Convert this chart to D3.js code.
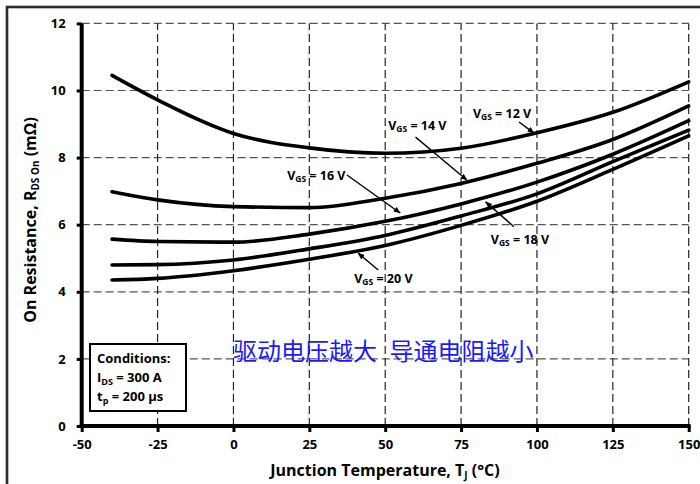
<!DOCTYPE html>
<html>
<head>
<meta charset="utf-8">
<script src="https://cdn.jsdelivr.net/npm/d3@7/dist/d3.min.js"></script>
<style>
  html, body { margin: 0; padding: 0; background: #fff; }
  svg { display: block; }
  text { font-family: "Open Sans", Lato, "DejaVu Sans", sans-serif; font-weight: bold; }
</style>
</head>
<body>
<svg id="chart" width="700" height="484"></svg>
<script>
// Junction temperature samples (°C)
const temps = [-40, -25, 0, 25, 50, 75, 100, 125, 150];

// On resistance R_DS(on) in mΩ for each gate voltage
const rdsVgs12 = [10.45, 9.72, 8.72, 8.29, 8.13, 8.28, 8.74, 9.35, 10.26];
const rdsVgs14 = [6.98, 6.74, 6.54, 6.51, 6.79, 7.23, 7.83, 8.54, 9.54];
const rdsVgs16 = [5.57, 5.50, 5.48, 5.72, 6.10, 6.62, 7.27, 8.10, 9.10];
const rdsVgs18 = [4.80, 4.81, 4.95, 5.28, 5.68, 6.26, 6.92, 7.88, 8.82];
const rdsVgs20 = [4.35, 4.40, 4.63, 4.97, 5.38, 5.98, 6.70, 7.65, 8.65];

const gateVoltages = ["12", "14", "16", "18", "20"];

// Axis ticks
const xTicks = [-50, -25, 0, 25, 50, 75, 100, 125, 150];
const yTicks = [0, 2, 4, 6, 8, 10, 12];

const series = [rdsVgs12, rdsVgs14, rdsVgs16, rdsVgs18, rdsVgs20].map((vals, i) => ({
  vgs: gateVoltages[i],
  points: temps.map((t, j) => ({ t, r: vals[j] }))
}));

const svg = d3.select("#chart");

// Outer frame
svg.append("rect")
  .attr("x", 7).attr("y", 7).attr("width", 730).attr("height", 520)
  .attr("fill", "none").attr("stroke", "#2b2b2b").attr("stroke-width", 2.6);

const x = d3.scaleLinear().domain([-50, 150]).range([81.7, 688.7]);
const y = d3.scaleLinear().domain([0, 12]).range([426, 23.4]);

// Dashed grid
const grid = svg.append("g").attr("class", "grid");
grid.selectAll("line.h").data(yTicks.filter(v => v > 0)).join("line")
  .attr("x1", x(-50)).attr("x2", x(150))
  .attr("y1", d => y(d)).attr("y2", d => y(d))
  .attr("stroke", "#555").attr("stroke-width", 1.2).attr("stroke-dasharray", "8,4");
grid.selectAll("line.v").data(xTicks.filter(v => v > -50)).join("line")
  .attr("y1", y(0)).attr("y2", y(12))
  .attr("x1", d => x(d)).attr("x2", d => x(d))
  .attr("stroke", "#222").attr("stroke-width", 1.2).attr("stroke-dasharray", "8,4");

// Axes (plain hyphen for negative labels)
const fmt = d => String(d);
const yAxis = svg.append("g")
  .attr("transform", `translate(${x(-50)},0)`)
  .call(d3.axisLeft(y).tickValues(yTicks).tickFormat(fmt).tickSize(5).tickPadding(11).tickSizeOuter(0));
const xAxis = svg.append("g")
  .attr("transform", `translate(0,${y(0)})`)
  .call(d3.axisBottom(x).tickValues(xTicks).tickFormat(fmt).tickSize(6).tickPadding(8).tickSizeOuter(0));

[yAxis, xAxis].forEach(a => {
  a.select(".domain").attr("stroke", "#000").attr("stroke-width", 4);
  a.selectAll(".tick line").attr("stroke", "#000").attr("stroke-width", 3);
  a.selectAll(".tick text").style("font-size", "13px").style("fill", "#000")
    .style("font-family", "'Open Sans', sans-serif").style("font-weight", "bold");
});
xAxis.select(".domain").attr("d", `M${x(-50) - 2},0H${x(150) + 2}`);
yAxis.select(".domain").attr("d", `M0,${y(0) + 2}V${y(12)}`);

// Curves
const line = d3.line()
  .x(d => x(d.t))
  .y(d => y(d.r))
  .curve(d3.curveMonotoneX);

svg.append("g").selectAll("path").data(series).join("path")
  .attr("d", d => line(d.points))
  .attr("fill", "none")
  .attr("stroke", "#000")
  .attr("stroke-width", 3.6)
  .attr("stroke-linecap", "round");

// Arrow marker
svg.append("defs").append("marker")
  .attr("id", "arrowhead")
  .attr("viewBox", "0 0 10 10")
  .attr("refX", 9).attr("refY", 5)
  .attr("markerWidth", 7).attr("markerHeight", 7)
  .attr("markerUnits", "userSpaceOnUse")
  .attr("orient", "auto")
  .append("path").attr("d", "M0,1L10,5L0,9Z").attr("fill", "#000");

// Series labels with leader arrows (positions in data units)
const annotations = [
  { vgs: "12", label: [88.5, 9.33], from: [94.1, 9.06], to: [99.0, 8.73] },
  { vgs: "14", label: [60.6, 8.97], from: [60.0, 8.61], to: [76.9, 7.33] },
  { vgs: "16", label: [27.3, 7.48], from: [37.4, 7.48], to: [54.9, 6.35] },
  { vgs: "18", label: [94.4, 5.57], from: [92.4, 5.94], to: [83.1, 6.68] },
  { vgs: "20", label: [49.4, 4.41], from: [47.7, 4.65], to: [41.1, 5.15] }
];

const ann = svg.append("g");
annotations.forEach(a => {
  ann.append("line")
    .attr("x1", x(a.from[0])).attr("y1", y(a.from[1]))
    .attr("x2", x(a.to[0])).attr("y2", y(a.to[1]))
    .attr("stroke", "#000").attr("stroke-width", 1.4)
    .attr("marker-end", "url(#arrowhead)");
  const t = ann.append("text")
    .attr("x", x(a.label[0])).attr("y", y(a.label[1]))
    .attr("text-anchor", "middle")
    .attr("dominant-baseline", "central")
    .style("font-size", "12.5px")
    .style("fill", "#000");
  t.append("tspan").text("V");
  t.append("tspan").attr("dy", 3).style("font-size", "8.5px").text("GS");
  t.append("tspan").attr("dy", -3).text(` = ${a.vgs} V`);
});

// Test conditions box
svg.append("rect")
  .attr("x", 90).attr("y", 344).attr("width", 96).attr("height", 67)
  .attr("fill", "#fff").attr("stroke", "#000").attr("stroke-width", 2);
const cond = svg.append("g").style("font-size", "13px").style("fill", "#000");
cond.append("text").attr("x", 97).attr("y", 363).text("Conditions:");
const c2 = cond.append("text").attr("x", 97).attr("y", 382);
c2.append("tspan").text("I");
c2.append("tspan").attr("dy", 3).style("font-size", "9px").text("DS");
c2.append("tspan").attr("dy", -3).text(" = 300 A");
const c3 = cond.append("text").attr("x", 97).attr("y", 401);
c3.append("tspan").text("t");
c3.append("tspan").attr("dy", 3).style("font-size", "9px").text("p");
c3.append("tspan").attr("dy", -3).text(" = 200 µs");

// Chinese annotation
const cn = svg.append("text")
  .attr("y", 349)
  .attr("dominant-baseline", "central")
  .style("font-family", "'Noto Sans CJK SC', sans-serif")
  .style("font-weight", "normal")
  .style("font-size", "24px")
  .style("fill", "#1a1aff");
cn.append("tspan").attr("x", 233).text("驱动电压越大");
cn.append("tspan").attr("x", 389.5).text("导通电阻越小");

// Axis titles
const xt = svg.append("text")
  .attr("x", 385).attr("y", 476)
  .attr("text-anchor", "middle")
  .style("font-size", "16px")
  .style("fill", "#000");
xt.append("tspan").text("Junction Temperature, T");
xt.append("tspan").attr("dy", 3).style("font-size", "10px").text("J");
xt.append("tspan").attr("dy", -3).text(" (°C)");

const yt = svg.append("text")
  .attr("transform", "translate(36,220) rotate(-90)")
  .attr("text-anchor", "middle")
  .style("font-size", "16px")
  .style("fill", "#000");
yt.append("tspan").text("On Resistance, R");
yt.append("tspan").attr("dy", 3).style("font-size", "10px").text("DS On");
yt.append("tspan").attr("dy", -3).text(" (mΩ)");
</script>
</body>
</html>
